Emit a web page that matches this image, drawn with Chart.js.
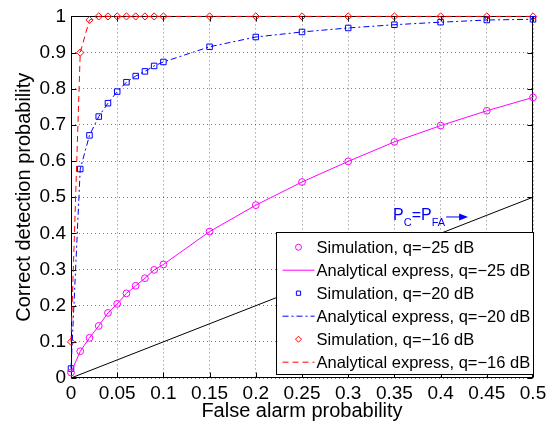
<!DOCTYPE html>
<html>
<head>
<meta charset="utf-8">
<script src="https://cdn.jsdelivr.net/npm/chart.js@4.4.0/dist/chart.umd.min.js"></script>
<style>
  html, body { margin: 0; padding: 0; background: #fff; }
  #wrap { width: 559px; height: 430px; }
</style>
</head>
<body>
<div id="wrap"><canvas id="roc"></canvas></div>
<script>
// false alarm probabilities used for the runs
const pfa = [0, 0.01, 0.02, 0.03, 0.04, 0.05, 0.06, 0.07, 0.08, 0.09, 0.1,
  0.15, 0.2, 0.25, 0.3, 0.35, 0.4, 0.45, 0.5];

// correct detection probability
const pdQ25 = [0.015, 0.074, 0.111, 0.144, 0.180, 0.205, 0.234, 0.255, 0.276, 0.299, 0.314,
  0.405, 0.478, 0.542, 0.599, 0.653, 0.698, 0.739, 0.776];
const pdQ20 = [0.026, 0.578, 0.671, 0.723, 0.760, 0.792, 0.818, 0.835, 0.848, 0.863, 0.874,
  0.916, 0.943, 0.957, 0.968, 0.977, 0.984, 0.990, 0.992];
const pdQ16 = [0.1, 0.9, 0.99, 1, 1, 1, 1, 1, 1, 1, 1,
  1, 1, 1, 1, 1, 1, 1, 1];

// chance line Pc = Pfa
const chanceX = [0, 0.5];
const chanceY = [0, 0.5];

const xTicks = [0, 0.05, 0.1, 0.15, 0.2, 0.25, 0.3, 0.35, 0.4, 0.45, 0.5];
const yTicks = [0, 0.1, 0.2, 0.3, 0.4, 0.5, 0.6, 0.7, 0.8, 0.9, 1];

const legendLabels = [
  'Simulation, q=\u221225 dB',
  'Analytical express, q=\u221225 dB',
  'Simulation, q=\u221220 dB',
  'Analytical express, q=\u221220 dB',
  'Simulation, q=\u221216 dB',
  'Analytical express, q=\u221216 dB'
];

const FONT = '"Liberation Sans", Arial, Helvetica, sans-serif';
const toPts = (xs, ys) => xs.map((x, i) => ({ x: x, y: ys[i] }));

const MAGENTA = '#ff00ff';
const BLUE = '#0000ff';
const RED = '#ff0000';

function simSet(label, ys, color, style, r) {
  return {
    label: label, data: toPts(pfa, ys), showLine: false,
    pointStyle: style, pointRadius: r, pointHoverRadius: r,
    borderColor: color, backgroundColor: 'rgba(0,0,0,0)', pointBorderWidth: 1,
    clip: false
  };
}
function lineSet(label, ys, color, dash) {
  return {
    label: label, data: toPts(pfa, ys), showLine: true, pointRadius: 0,
    borderColor: color, borderWidth: 1, borderDash: dash, tension: 0,
    clip: false
  };
}

const datasets = [
  simSet(legendLabels[0], pdQ25, MAGENTA, 'circle', 3.4),
  lineSet(legendLabels[1], pdQ25, MAGENTA, []),
  simSet(legendLabels[2], pdQ20, BLUE, 'rect', 3.9),
  lineSet(legendLabels[3], pdQ20, BLUE, [6, 3, 2, 3]),
  simSet(legendLabels[4], pdQ16, RED, 'rectRot', 3.6),
  lineSet(legendLabels[5], pdQ16, RED, [6, 4]),
  {
    label: 'chance', data: toPts(chanceX, chanceY), showLine: true, pointRadius: 0,
    borderColor: '#000', borderWidth: 1
  }
];

// box round the plot with inward ticks, MATLAB style
const framePlugin = {
  id: 'frame',
  beforeDatasetsDraw(chart) {
    const { ctx, chartArea: a, scales } = chart;
    ctx.save();
    ctx.strokeStyle = '#000';
    ctx.lineWidth = 1;
    const L = Math.round(a.left) + 0.5, R = Math.round(a.right) - 0.5;
    const T = Math.round(a.top) + 0.5, B = Math.round(a.bottom) - 0.5;
    ctx.strokeRect(L, T, R - L, B - T);
    ctx.beginPath();
    xTicks.forEach(v => {
      const px = Math.round(scales.x.getPixelForValue(v)) + 0.5;
      ctx.moveTo(px, B); ctx.lineTo(px, B - 5);
      ctx.moveTo(px, T); ctx.lineTo(px, T + 5);
    });
    yTicks.forEach(v => {
      const py = Math.round(scales.y.getPixelForValue(v)) + 0.5;
      ctx.moveTo(L, py); ctx.lineTo(L + 5, py);
      ctx.moveTo(R, py); ctx.lineTo(R - 5, py);
    });
    ctx.stroke();
    ctx.restore();
  }
};

// "Pc=Pfa" note with arrow plus the boxed legend
const notePlugin = {
  id: 'note',
  afterDatasetsDraw(chart) {
    const { ctx, chartArea: a, scales } = chart;
    ctx.save();

    // annotation
    let x = scales.x.getPixelForValue(0.3485);
    const y = scales.y.getPixelForValue(0.437);
    ctx.fillStyle = BLUE;
    ctx.strokeStyle = BLUE;
    ctx.textBaseline = 'alphabetic';
    ctx.textAlign = 'left';
    const big = '16px ' + FONT, small = '11px ' + FONT;
    const parts = [['P', big, 0], ['C', small, 6], ['=', big, 0], ['P', big, 0], ['FA', small, 6]];
    parts.forEach(p => {
      ctx.font = p[1];
      ctx.fillText(p[0], x, y + p[2]);
      x += ctx.measureText(p[0]).width;
    });
    const ay = y - 3;
    ctx.lineWidth = 1;
    ctx.beginPath();
    ctx.moveTo(x + 1, ay); ctx.lineTo(x + 16, ay);
    ctx.stroke();
    ctx.beginPath();
    ctx.moveTo(x + 23, ay); ctx.lineTo(x + 14, ay - 3.5); ctx.lineTo(x + 14, ay + 3.5);
    ctx.closePath();
    ctx.fill();

    // legend
    const w = 257, h = 142;
    const bx = Math.round(a.right - w) + 0.5, by = Math.round(a.bottom - 4 - h) + 0.5;
    ctx.fillStyle = '#fff';
    ctx.fillRect(bx, by, w, h);
    ctx.strokeStyle = '#000';
    ctx.strokeRect(bx, by, w, h);
    ctx.font = '16.5px ' + FONT;
    ctx.textBaseline = 'middle';
    legendLabels.forEach((lab, i) => {
      const ds = chart.data.datasets[i];
      const cy = by + 14.7 + i * 23;
      ctx.save();
      ctx.strokeStyle = ds.borderColor;
      ctx.fillStyle = 'rgba(0,0,0,0)';
      ctx.lineWidth = 1;
      if (ds.showLine) {
        ctx.setLineDash(ds.borderDash || []);
        ctx.beginPath();
        ctx.moveTo(bx + 6, cy); ctx.lineTo(bx + 38, cy);
        ctx.stroke();
      } else {
        Chart.helpers.drawPoint(ctx, { pointStyle: ds.pointStyle, radius: 3, borderWidth: 1 }, bx + 22, cy);
      }
      ctx.restore();
      ctx.fillStyle = '#000';
      ctx.fillText(lab, bx + 40, cy + 1);
    });
    ctx.restore();
  }
};

new Chart(document.getElementById('roc'), {
  type: 'scatter',
  data: { datasets: datasets },
  options: {
    responsive: true,
    maintainAspectRatio: false,
    animation: false,
    events: [],
    layout: { padding: { top: 11, right: 26, left: 0, bottom: 0 } },
    plugins: { legend: { display: false }, tooltip: { enabled: false } },
    scales: {
      x: {
        type: 'linear', min: 0, max: 0.5,
        afterBuildTicks: s => { s.ticks = xTicks.map(v => ({ value: v })); },
        afterFit: s => { s.height = 52; },
        ticks: {
          autoSkip: false, maxRotation: 0, padding: 4, color: '#000',
          font: { family: FONT, size: 19 },
          callback: v => String(Number(v.toFixed(2)))
        },
        grid: { color: 'rgba(0,0,0,0.5)', lineWidth: 1, drawTicks: false },
        border: { display: false, dash: [1, 3] },
        title: {
          display: true, text: 'False alarm probability', color: '#000',
          font: { family: FONT, size: 20 }, padding: { top: 0, bottom: 7 }
        }
      },
      y: {
        type: 'linear', min: 0, max: 1,
        afterBuildTicks: s => { s.ticks = yTicks.map(v => ({ value: v })); },
        afterFit: s => { s.width = 71; },
        ticks: {
          autoSkip: false, padding: 5, color: '#000',
          font: { family: FONT, size: 19 },
          callback: v => String(Number(v.toFixed(2)))
        },
        grid: { color: 'rgba(0,0,0,0.5)', lineWidth: 1, drawTicks: false },
        border: { display: false, dash: [1, 3] },
        title: {
          display: true, text: 'Correct detection probability', color: '#000',
          font: { family: FONT, size: 20 }, padding: { top: 12, bottom: 0 }
        }
      }
    }
  },
  plugins: [framePlugin, notePlugin]
});
</script>
</body>
</html>
